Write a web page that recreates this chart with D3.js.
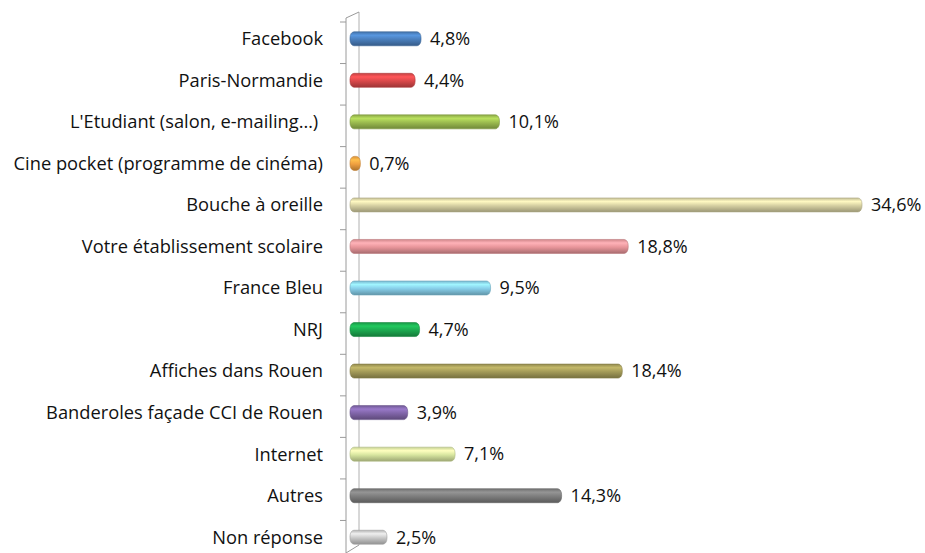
<!DOCTYPE html>
<html>
<head>
<meta charset="utf-8">
<script src="https://cdn.jsdelivr.net/npm/d3@7/dist/d3.min.js"></script>
<style>
  body { margin: 0; background: #fff; }
  svg { display: block; }
  text { font-family: "Open Sans", Lato, sans-serif; fill: #111; }
</style>
</head>
<body>
<script>
var categories = [
  "Facebook", "Paris-Normandie", "L'Etudiant (salon, e-mailing\u2026)\u00a0",
  "Cine pocket (programme de cinéma)", "Bouche à oreille",
  "Votre établissement scolaire", "France Bleu", "NRJ",
  "Affiches dans Rouen", "Banderoles façade CCI de Rouen",
  "Internet", "Autres", "Non réponse"
];
var values = [4.8, 4.4, 10.1, 0.7, 34.6, 18.8, 9.5, 4.7, 18.4, 3.9, 7.1, 14.3, 2.5];
var valueLabels = ["4,8%", "4,4%", "10,1%", "0,7%", "34,6%", "18,8%", "9,5%",
  "4,7%", "18,4%", "3,9%", "7,1%", "14,3%", "2,5%"];
var colors = ["#4a7ebb", "#d9484a", "#9bbb4f", "#f0a040", "#d6d0a2", "#e8959a",
  "#86cde8", "#1ca84f", "#a39a58", "#8065a8", "#d8e6a0", "#7d7d7d", "#c8c8c8"];

var w = 925, h = 553;
var svg = d3.select("body").append("svg")
  .attr("width", w).attr("height", h);

var x0 = 350;
var x = d3.scaleLinear().domain([0, 34.6]).range([x0, 862]);
var y = d3.scaleBand().domain(categories).range([18, 558]).padding(0);

var defs = svg.append("defs");
colors.forEach(function (c, i) {
  var g = defs.append("linearGradient").attr("id", "g" + i)
    .attr("x1", 0).attr("y1", 0).attr("x2", 0).attr("y2", 1);
  var base = d3.color(c);
  g.append("stop").attr("offset", "0%").attr("stop-color", base.darker(0.3));
  g.append("stop").attr("offset", "25%").attr("stop-color", base.brighter(0.5));
  g.append("stop").attr("offset", "55%").attr("stop-color", base);
  g.append("stop").attr("offset", "100%").attr("stop-color", base.darker(0.9));
});

// walls / axis
var wall = svg.append("g").attr("stroke", "#9a9a9a").attr("fill", "none");
wall.append("line").attr("x1", 346).attr("x2", 346).attr("y1", 18).attr("y2", 553);
wall.append("line").attr("x1", 359).attr("x2", 359).attr("y1", 12).attr("y2", 545)
  .attr("stroke", "#b0b0b0");
wall.append("line").attr("x1", 346).attr("x2", 359).attr("y1", 18).attr("y2", 12);
wall.append("line").attr("x1", 346).attr("x2", 359).attr("y1", 553).attr("y2", 545);

var tickYs = categories.map(function (c) { return y(c); });
wall.selectAll("line.tick").data(tickYs).enter().append("line")
  .attr("class", "tick")
  .attr("x1", 340).attr("x2", 346)
  .attr("y1", function (d) { return d + 4; })
  .attr("y2", function (d) { return d + 4; });

var bh = 14;
var rows = svg.append("g").selectAll("g").data(categories).enter().append("g");

rows.append("rect")
  .attr("x", x0)
  .attr("y", function (d) { return y(d) + y.bandwidth() / 2 - bh / 2; })
  .attr("width", function (d, i) { return Math.max(x(values[i]) - x0, 5); })
  .attr("height", bh)
  .attr("rx", 4).attr("ry", 6)
  .attr("fill", function (d, i) { return "url(#g" + i + ")"; })
  .attr("stroke", function (d, i) { return d3.color(colors[i]).darker(0.6); })
  .attr("stroke-width", 0.6);

rows.append("text")
  .attr("x", 323)
  .attr("y", function (d) { return y(d) + y.bandwidth() / 2; })
  .attr("dy", "0.35em")
  .attr("text-anchor", "end")
  .attr("font-size", 18.3)
  .text(function (d) { return d; });

rows.append("text")
  .attr("x", function (d, i) { return Math.max(x(values[i]), x0 + 5) + 9; })
  .attr("y", function (d) { return y(d) + y.bandwidth() / 2; })
  .attr("dy", "0.35em")
  .attr("font-size", 18)
  .text(function (d, i) { return valueLabels[i]; });
</script>
</body>
</html>
